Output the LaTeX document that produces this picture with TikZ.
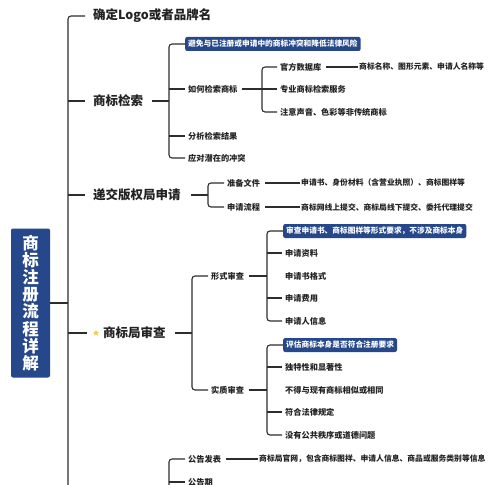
\documentclass[tikz,border=0pt]{standalone}
\usepackage{fontspec}
\setmainfont{Noto Sans CJK SC}
\usetikzlibrary{shapes.geometric}
\definecolor{navy}{RGB}{38,72,138}
\definecolor{ln}{RGB}{45,45,45}
\definecolor{tx}{RGB}{34,34,34}
\definecolor{gold}{RGB}{246,200,70}
\begin{document}
\begin{tikzpicture}[x=1pt,y=-1pt,
  lvone/.style={anchor=west,inner sep=0pt,font=\fontsize{12.5}{14}\selectfont\bfseries,text=tx},
  lvtwo/.style={anchor=west,inner sep=0pt,font=\fontsize{8.2}{10}\selectfont\bfseries,text=tx},
  lvthree/.style={anchor=west,inner sep=0pt,font=\fontsize{7.8}{10}\selectfont\bfseries,text=tx},
  hibox/.style={anchor=west,fill=navy,rounded corners=2pt,inner xsep=3pt,inner ysep=0pt,minimum height=14pt,text=white,font=\fontsize{7.7}{9}\selectfont\bfseries},
  rootbox/.style={fill=navy,rounded corners=2pt,minimum width=39pt,minimum height=149pt,inner sep=0pt,align=center,text=white,font=\fontsize{16.5}{17.2}\selectfont\bfseries},
  conn/.style={draw=ln,line width=1.1pt,rounded corners=3pt}
]
\path[use as bounding box] (0,0) rectangle (500,484);
\clip (0,0) rectangle (500,484);
\fill[white] (0,0) rectangle (500,484);

% bracket x positions
\coordinate (tk) at (68,0);
\coordinate (bA) at (169,0);
\coordinate (bB) at (262,0);
\coordinate (bC) at (208,0);
\coordinate (bD) at (192,0);
\coordinate (bE) at (267,0);
\coordinate (tkEnd) at (68,530);
\coordinate (gEnd) at (169,530);

% root
\node[rootbox] (root) at (30.5,303) {商\\标\\注\\册\\流\\程\\详\\解};

% level one
\node[lvone] (a) at (93,16) {确定Logo或者品牌名};
\node[lvone] (b) at (93,101) {商标检索};
\node[lvone] (c) at (93,195) {递交版权局申请};
\node[star,star points=5,star point ratio=2.3,fill=gold,minimum size=6.5pt,inner sep=0pt] (st) at (96,333) {};
\node[lvone] (d) at (103,333) {商标局审查};

% 商标检索 children
\node[hibox] (k1) at (185,44) {避免与已注册或申请中的商标冲突和降低法律风险};
\node[lvtwo] (k2) at (188,89) {如何检索商标};
\node[lvtwo] (k3) at (188,136) {分析检索结果};
\node[lvtwo] (k4) at (188,158) {应对潜在的冲突};
\node[lvtwo] (m1) at (280,67) {官方数据库};
\node[lvthree] (n1) at (359,67) {商标名称、图形元素、申请人名称等};
\node[lvtwo] (m2) at (280,89) {专业商标检索服务};
\node[lvtwo] (m3) at (280,112) {注意声音、色彩等非传统商标};

% 递交 children
\node[lvtwo] (p1) at (227,183) {准备文件};
\node[lvthree] (q1) at (301,183) {申请书、身份材料（含营业执照）、商标图样等};
\node[lvtwo] (p2) at (227,207) {申请流程};
\node[lvthree] (q2) at (301,207) {商标网线上提交、商标局线下提交、委托代理提交};

% 审查 children
\node[lvtwo] (r1) at (211,276) {形式审查};
\node[lvtwo] (r2) at (211,390) {实质审查};
\node[hibox] (s0) at (283,231) {审查申请书、商标图样等形式要求，不涉及商标本身};
\node[lvtwo] (s1) at (285,253) {申请资料};
\node[lvtwo] (s2) at (285,276) {申请书格式};
\node[lvtwo] (s3) at (285,298) {申请费用};
\node[lvtwo] (s4) at (285,321) {申请人信息};
\node[hibox] (t0) at (283,345) {评估商标本身是否符合注册要求};
\node[lvtwo] (t1) at (285,367) {独特性和显著性};
\node[lvtwo] (t2) at (285,390) {不得与现有商标相似或相同};
\node[lvtwo] (t3) at (285,412) {符合法律规定};
\node[lvtwo] (t4) at (285,435) {没有公共秩序或道德问题};

% bottom group
\node[lvtwo] (g1) at (188,459) {公告发表};
\node[lvthree] (h1) at (259,459) {商标局官网，包含商标图样、申请人信息、商品或服务类别等信息};
\node[lvtwo] (g2) at (188,482) {公告期};

% ---- connectors ----
\draw[conn] (root.east) -- (tk |- root.east);
\draw[conn] ([xshift=-8pt]a.west) -| (tkEnd);
\draw[conn] (tk |- b.west) -- ([xshift=-8pt]b.west);
\draw[conn] (tk |- c.west) -- ([xshift=-8pt]c.west);
\draw[conn] (tk |- d.west) -- ([xshift=-16pt]d.west);

% 商标检索
\draw[conn] ([xshift=9pt]b.east) -- (bA |- b.east);
\draw[conn] (k1.west) -| (bA |- b.east) |- ([xshift=-3pt]k4.west);
\draw[conn] (bA |- k2.west) -- ([xshift=-3pt]k2.west);
\draw[conn] (bA |- k3.west) -- ([xshift=-3pt]k3.west);
\draw[conn] ([xshift=4pt]k2.east) -- (bB |- k2.east);
\draw[conn] ([xshift=-3pt]m1.west) -| (bB |- k2.east) |- ([xshift=-3pt]m3.west);
\draw[conn] (bB |- m2.west) -- ([xshift=-3pt]m2.west);
\draw[conn] ([xshift=5pt]m1.east) -- ([xshift=-1pt]n1.west);

% 递交
\draw[conn] ([xshift=10pt]c.east) -- (bC |- c.east);
\draw[conn] ([xshift=-3pt]p1.west) -| (bC |- c.east) |- ([xshift=-3pt]p2.west);
\draw[conn] ([xshift=5pt]p1.east) -- ([xshift=-1pt]q1.west);
\draw[conn] ([xshift=5pt]p2.east) -- ([xshift=-1pt]q2.west);

% 审查
\draw[conn] ([xshift=9pt]d.east) -- (bD |- d.east);
\draw[conn] ([xshift=-3pt]r1.west) -| (bD |- d.east) |- ([xshift=-3pt]r2.west);
\draw[conn] ([xshift=5pt]r1.east) -- (bE |- r1.east);
\draw[conn] (s0.west) -| (bE |- r1.east) |- ([xshift=-3pt]s4.west);
\draw[conn] (bE |- s1.west) -- ([xshift=-3pt]s1.west);
\draw[conn] (bE |- s3.west) -- ([xshift=-3pt]s3.west);
\draw[conn] ([xshift=5pt]r2.east) -- (bE |- r2.east);
\draw[conn] (t0.west) -| (bE |- r2.east) |- ([xshift=-3pt]t4.west);
\draw[conn] (bE |- t1.west) -- ([xshift=-3pt]t1.west);
\draw[conn] (bE |- t3.west) -- ([xshift=-3pt]t3.west);

% bottom
\draw[conn] ([xshift=-3pt]g1.west) -| (gEnd);
\draw[conn] (bA |- g2.west) -- ([xshift=-3pt]g2.west);
\draw[conn] ([xshift=5pt]g1.east) -- ([xshift=-1pt]h1.west);
\end{tikzpicture}
\end{document}
